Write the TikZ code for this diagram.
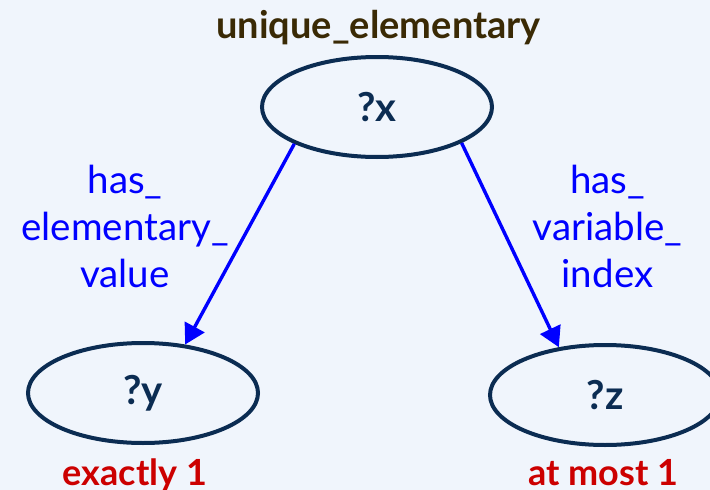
\documentclass[tikz,border=0pt]{standalone}
\usepackage{fontspec}
\setmainfont{Lato}
\usetikzlibrary{shapes.geometric,arrows.meta}
\definecolor{bg}{HTML}{F0F5FC}
\definecolor{navy}{HTML}{0B2C52}
\definecolor{titlec}{HTML}{3A2A05}
\definecolor{edgeblue}{HTML}{0000FF}
\definecolor{redc}{HTML}{CC0000}
\tikzset{
  var/.style={ellipse, draw=navy, line width=4pt, minimum width=230pt, minimum height=100pt, inner sep=0pt, text=navy, font=\fontsize{40}{46}\selectfont\bfseries},
  rel/.style={draw=edgeblue, line width=3.4pt, -{Triangle[length=20pt,width=22pt]}},
  rellabel/.style={text=edgeblue, align=center, font=\fontsize{38.5}{47}\selectfont},
  card/.style={text=redc, anchor=base, inner sep=0pt, font=\fontsize{36}{40}\selectfont\bfseries},
  titlestyle/.style={text=titlec, anchor=base, inner sep=0pt, font=\fontsize{38}{44}\selectfont\bfseries},
}
\begin{document}
\begin{tikzpicture}[x=1pt,y=-1pt]
\fill[bg] (0,0) rectangle (710,490);
\useasboundingbox (0,0) rectangle (710,490);
\node[titlestyle] (title) at (378.5,38) {unique\_elementary};
\node[var] (x) at (377,107) {?x};
\node[var] (y) at (143,393) {?y};
\node[var] (z) at (605,395) {?z};
\draw[rel] (x.204) -- (y.49);
\draw[rel] (x.337) -- (z.134);
\node[rellabel] (l1) at (125,226) {has\_\\elementary\_\\value};
\node[rellabel] (l2) at (607.5,226) {has\_\\variable\_\\index};
\node[card] (c1) at (135,485) {exactly 1};
\node[card] (c2) at (603.5,485) {at most 1};
\end{tikzpicture}
\end{document}
